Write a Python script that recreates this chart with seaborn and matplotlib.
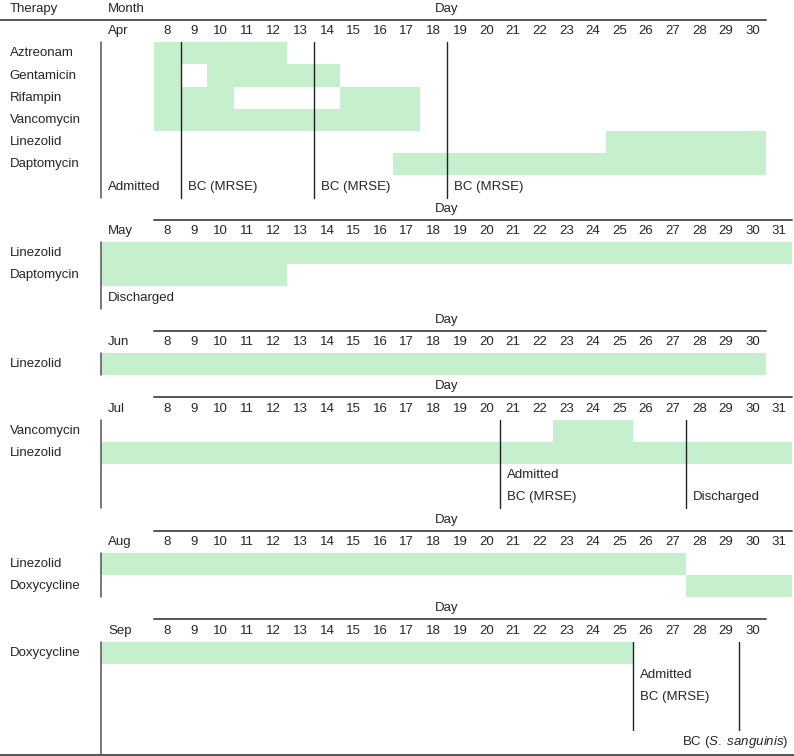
import matplotlib
matplotlib.use("Agg")
import matplotlib.pyplot as plt
import pandas as pd
import seaborn as sns

# ---- data ----
months = ["Apr", "May", "Jun", "Jul", "Aug", "Sep"]
month_last_day = [30, 31, 30, 31, 31, 30]
first_day = 8

therapies_by_month = {
    "Apr": ["Aztreonam", "Gentamicin", "Rifampin", "Vancomycin", "Linezolid", "Daptomycin"],
    "May": ["Linezolid", "Daptomycin"],
    "Jun": ["Linezolid"],
    "Jul": ["Vancomycin", "Linezolid"],
    "Aug": ["Linezolid", "Doxycycline"],
    "Sep": ["Doxycycline"],
}

# courses: month, therapy, first day, last day (None = carried over from previous month)
course_month = ["Apr", "Apr", "Apr", "Apr", "Apr", "Apr", "Apr", "Apr",
                "May", "May", "Jun", "Jul", "Jul", "Aug", "Aug", "Sep"]
course_therapy = ["Aztreonam", "Gentamicin", "Gentamicin", "Rifampin", "Rifampin",
                  "Vancomycin", "Linezolid", "Daptomycin",
                  "Linezolid", "Daptomycin", "Linezolid", "Vancomycin", "Linezolid",
                  "Linezolid", "Doxycycline", "Doxycycline"]
course_start = [8, 8, 10, 8, 15, 8, 25, 17, None, None, None, 23, None, None, 28, None]
course_end = [12, 8, 14, 10, 17, 17, 30, 30, 31, 12, 30, 25, 31, 27, 31, 25]

# events: month, day after which event happens (None = start of month block), label lines
event_month = ["Apr", "Apr", "Apr", "Apr", "May", "Jul", "Jul", "Sep", "Sep"]
event_after_day = [None, 8, 13, 18, None, 20, 27, 25, 29]
event_labels = [["Admitted"], ["BC (MRSE)"], ["BC (MRSE)"], ["BC (MRSE)"], ["Discharged"],
                ["Admitted", "BC (MRSE)"], ["", "Discharged"],
                ["Admitted", "BC (MRSE)", ""], []]
note_label = r"BC ($\mathit{S.\ sanguinis}$)"

courses = pd.DataFrame({"month": course_month, "therapy": course_therapy,
                        "start": course_start, "end": course_end})

# ---- style ----
sns.set_theme(style="white")
plt.rcParams["font.family"] = ["Liberation Sans", "DejaVu Sans"]
plt.rcParams["mathtext.fontset"] = "custom"
plt.rcParams["mathtext.it"] = "Liberation Sans:italic"
plt.rcParams["mathtext.rm"] = "Liberation Sans"
fill = "#C6EFCE"
fs = 9.5

fig = plt.figure(figsize=(7.94, 7.56), dpi=100)
ax = fig.add_axes([0, 0, 1, 1])
x_left, x_right = 1.71, 31.56
ax.set_xlim(x_left, x_right)
ax.set_ylim(33.65, -0.405)
ax.axis("off")

month_col = first_day - 2.5   # left edge of month column
label_x = 2.07
pad = 0.27

row = 0
for mi, m in enumerate(months):
    last = month_last_day[mi]
    ths = therapies_by_month[m]
    ev_idx = [i for i, em in enumerate(event_month) if em == m]
    n_ev_rows = max([len(event_labels[i]) for i in ev_idx] + [0])
    header, mrow = row, row + 1
    trow0 = row + 2
    block_end = trow0 + len(ths) + n_ev_rows  # exclusive

    # header
    if mi == 0:
        ax.text(label_x, header, "Therapy", va="center", fontsize=fs)
        ax.text(month_col + pad, header, "Month", va="center", fontsize=fs)
        ax.plot([x_left, last + 0.5], [header + 0.5] * 2, color="#555555", lw=1.4)
    else:
        ax.plot([first_day - 0.5, last + 0.5], [header + 0.5] * 2, color="#555555", lw=1.4)
    ax.text(18.5, header, "Day", va="center", ha="center", fontsize=fs)

    # month row
    ax.text(month_col + pad, mrow, m, va="center", fontsize=fs)
    for d in range(first_day, last + 1):
        ax.text(d, mrow, str(d), va="center", ha="center", fontsize=fs)

    # therapy rows
    for k, t in enumerate(ths):
        r = trow0 + k
        ax.text(label_x, r, t, va="center", fontsize=fs)
        sub = courses[(courses.month == m) & (courses.therapy == t)]
        for _, c in sub.iterrows():
            left = month_col if pd.isna(c.start) else c.start - 0.5
            ax.barh(r, c.end + 0.5 - left, left=left, height=1.0,
                    color=fill, edgecolor="none", zorder=1)

    # month separator
    sep_bottom = 33.65 if mi == len(months) - 1 else block_end - 0.5
    ax.plot([month_col, month_col], [trow0 - 0.5, sep_bottom], color="#555555", lw=1.1, zorder=3)

    # events
    for i in ev_idx:
        a = event_after_day[i]
        x = month_col if a is None else a + 0.5
        if a is not None:
            ax.plot([x, x], [trow0 - 0.5, block_end - 0.5], color="#222222", lw=1.0, zorder=3)
        for j, lab in enumerate(event_labels[i]):
            ax.text(x + pad, trow0 + len(ths) + j, lab, va="center", fontsize=fs)

    row = block_end

# final note and bottom rule
ax.text(31.37, row, note_label, va="center", ha="right", fontsize=fs)
ax.plot([x_left, x_right], [33.6, 33.6], color="#555555", lw=1.4)

fig.savefig("out.png", dpi=100)
